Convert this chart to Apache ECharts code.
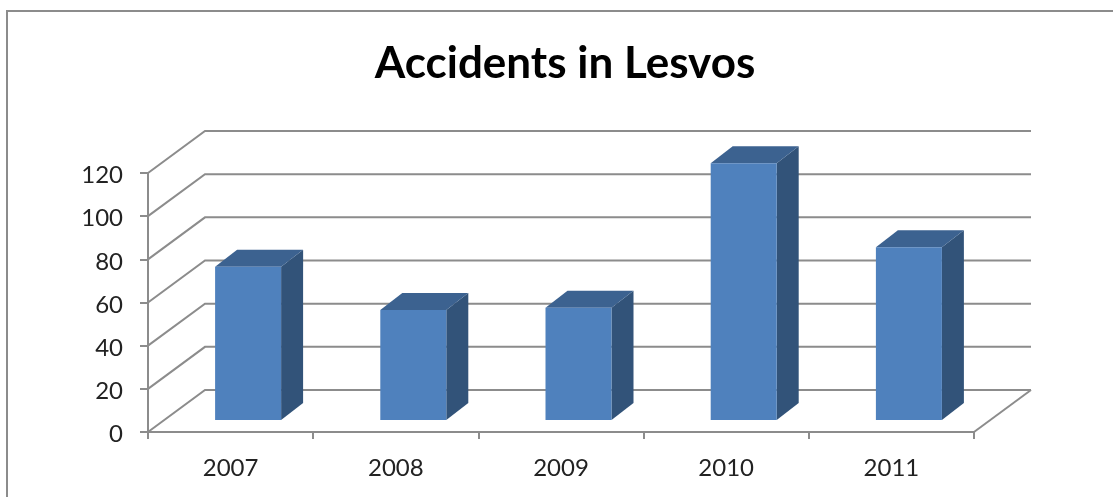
<!DOCTYPE html>
<html>
<head>
<meta charset="utf-8">
<style>
  html, body { margin: 0; padding: 0; background: #fff; }
  #main { width: 1113px; height: 497px; }
</style>
<script src="https://cdn.jsdelivr.net/npm/echarts@6/dist/echarts.min.js"></script>
</head>
<body>
<div id="main"></div>
<script>
const years = ["2007", "2008", "2009", "2010", "2011"];
const accidents = [71, 51, 52, 119, 80];
const wallTicks = [0, 20, 40, 60, 80, 100, 120];

// fake 3D: how far the back wall and the bars are pushed, in px
const WALL_DX = 57;
const WALL_DY = -42;
const BAR_DX = 22;
const BAR_DY = -17;
const BAR_SHIFT = 17.5;
const BAR_LIFT = 12;
const BAR_WIDTH = 66;
const LINE_COLOR = "#8c8c8c";

function renderWallLine(params, api) {
  const grid = params.coordSys;
  const y = api.coord([0, api.value(0)])[1];
  const left = grid.x;
  const right = grid.x + grid.width;
  const shapes = [
    {
      type: "polyline",
      shape: {
        points: [
          [left, y],
          [left + WALL_DX, y + WALL_DY],
          [right + WALL_DX, y + WALL_DY],
        ],
      },
      style: { stroke: LINE_COLOR, lineWidth: 2, fill: null },
    },
  ];
  // floor edge on the right side
  if (api.value(0) === 0) {
    shapes.push({
      type: "line",
      shape: { x1: right, y1: y, x2: right + WALL_DX, y2: y + WALL_DY },
      style: { stroke: LINE_COLOR, lineWidth: 2 },
    });
  }
  return { type: "group", children: shapes };
}

function renderBar(params, api) {
  const top = api.coord([api.value(0), api.value(1)]);
  const base = api.coord([api.value(0), 0]);
  const x0 = top[0] + BAR_SHIFT - BAR_WIDTH / 2;
  const x1 = x0 + BAR_WIDTH;
  const yTop = top[1] - BAR_LIFT;
  const yBottom = base[1] - BAR_LIFT;
  return {
    type: "group",
    children: [
      {
        type: "polygon",
        shape: {
          points: [
            [x1, yTop],
            [x1 + BAR_DX, yTop + BAR_DY],
            [x1 + BAR_DX, yBottom + BAR_DY],
            [x1, yBottom],
          ],
        },
        style: { fill: "#325379" },
      },
      {
        type: "polygon",
        shape: {
          points: [
            [x0, yTop],
            [x0 + BAR_DX, yTop + BAR_DY],
            [x1 + BAR_DX, yTop + BAR_DY],
            [x1, yTop],
          ],
        },
        style: { fill: "#3c6290" },
      },
      {
        type: "rect",
        shape: { x: x0, y: yTop, width: BAR_WIDTH, height: yBottom - yTop },
        style: { fill: "#4f81bd" },
      },
    ],
  };
}

const chart = echarts.init(document.getElementById("main"));
chart.setOption({
  animation: false,
  backgroundColor: "#fff",
  textStyle: { fontFamily: "Lato" },
  title: {
    text: "Accidents in Lesvos",
    left: 560,
    top: 37,
    textAlign: "center",
    textStyle: { fontFamily: "Lato", fontSize: 44, fontWeight: "bold", color: "#000" },
  },
  graphic: [
    {
      type: "polyline",
      shape: { points: [[7, 497], [7, 11], [1113, 11]] },
      style: { stroke: "#8c8c8c", lineWidth: 2, fill: null },
    },
  ],
  grid: { left: 148, right: 139, top: 173, bottom: 65 },
  xAxis: {
    type: "category",
    data: years,
    axisLine: { lineStyle: { color: LINE_COLOR, width: 2 } },
    axisTick: { show: true, length: 7, lineStyle: { color: LINE_COLOR, width: 2 } },
    axisLabel: { fontSize: 24, color: "#222", margin: 24 },
  },
  yAxis: {
    type: "value",
    min: 0,
    max: 120,
    interval: 20,
    splitLine: { show: false },
    axisLine: { show: true, lineStyle: { color: LINE_COLOR, width: 2 } },
    axisTick: { show: true, length: 8, lineStyle: { color: LINE_COLOR, width: 2 } },
    axisLabel: { fontSize: 24, color: "#222", margin: 25, verticalAlign: "top", lineHeight: 5 },
  },
  series: [
    {
      type: "custom",
      renderItem: renderWallLine,
      data: wallTicks.map((v) => [v]),
      encode: { y: 0 },
      silent: true,
      z: 1,
    },
    {
      type: "custom",
      renderItem: renderBar,
      data: accidents.map((v, i) => [i, v]),
      encode: { x: 0, y: 1 },
      z: 2,
    },
  ],
});
</script>
</body>
</html>
